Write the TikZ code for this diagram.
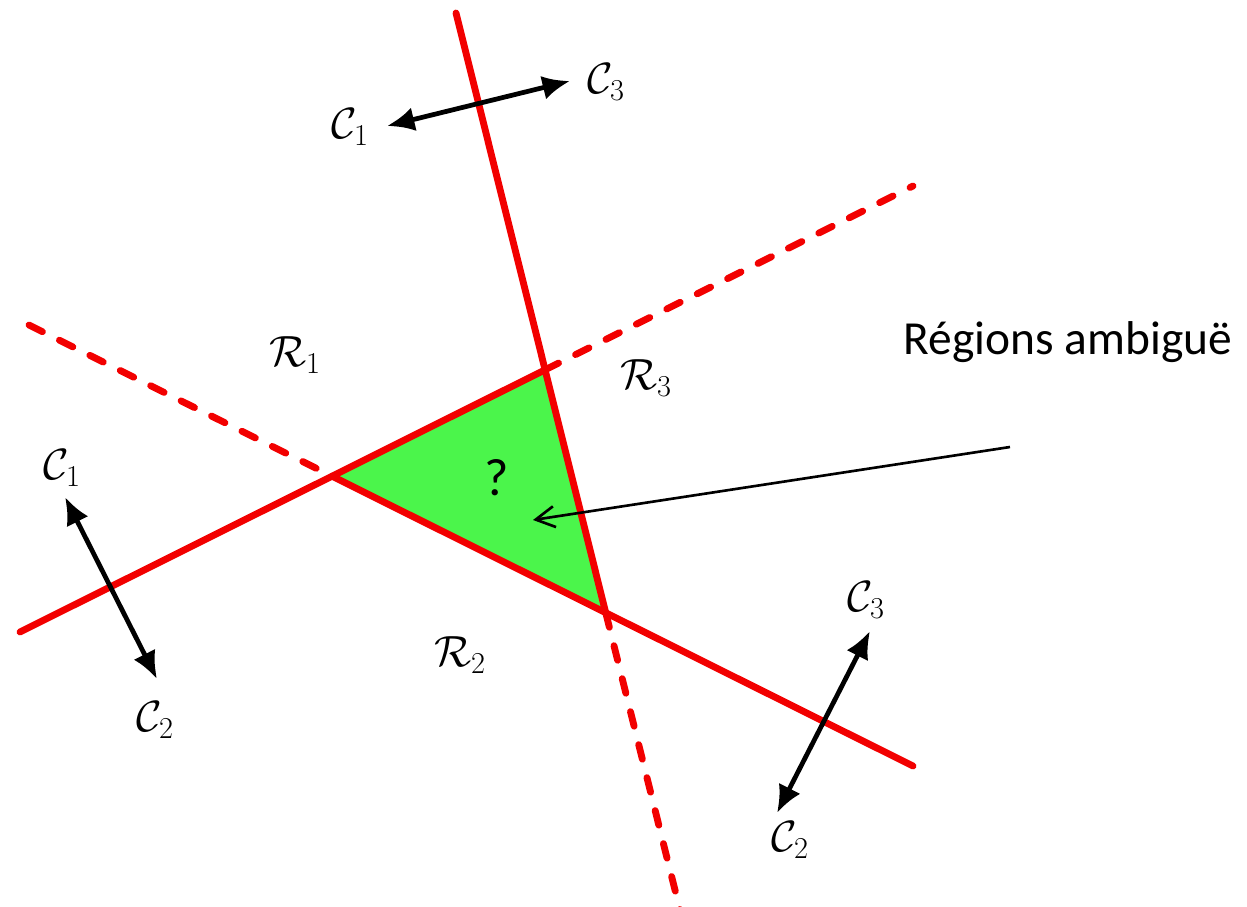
\documentclass[tikz,border=0pt]{standalone}
\usepackage{amsmath}
\usepackage{fontspec}
\newfontfamily\calibri{Carlito}
\usetikzlibrary{calc}
\usetikzlibrary{arrows.meta}
\tikzset{>=latex}
\colorlet{myred}{red!95!black}
\definecolor{mygreen}{RGB}{75,245,75}

\begin{document}
\begin{tikzpicture}[x=0.02cm, y=-0.02cm,
    border/.style={line width=3.9pt, myred, line cap=round},
    borderdash/.style={border, dash pattern=on 0.3cm off 0.38cm},
    dbl/.style={{Latex[length=0.55cm,width=0.48cm]}-{Latex[length=0.55cm,width=0.48cm]}, line width=2.7pt},
    lab/.style={font=\fontsize{27}{32}\selectfont},
    txt/.style={font=\calibri\fontsize{27}{32}\selectfont}]

    \clip (0,0) rectangle (1247,906);
    \useasboundingbox (0,0) rectangle (1247,906);

    % ends of the three boundaries
    \coordinate (Atop) at (456,13);
    \coordinate (Abot) at (684,926);
    \coordinate (Bl) at (20,632);
    \coordinate (Br) at (913,186);
    \coordinate (Cl) at (29,325);
    \coordinate (Cr) at (913,766);
    % corners of the ambiguous region
    \coordinate (P12) at (intersection of Bl--Br and Cl--Cr);
    \coordinate (P13) at (intersection of Atop--Abot and Bl--Br);
    \coordinate (P23) at (intersection of Atop--Abot and Cl--Cr);

    \fill[mygreen] (P12) -- (P13) -- (P23) -- cycle;

    \draw[borderdash] (P23) -- (Abot);
    \draw[borderdash] (P13) -- (Br);
    \draw[borderdash] (Cl) -- (P12);
    \draw[border] (Atop) -- (P23);
    \draw[border] (Bl) -- (P13);
    \draw[border] (P12) -- (Cr);

    % C1 / C3
    \coordinate (t1) at (387,126);
    \coordinate (t3) at (570,81);
    \draw[dbl] (t1) -- (t3);
    \node[lab] (c1top) at (350,127) {$\mathcal{C}_1$};
    \node[lab] (c3top) at (606,82) {$\mathcal{C}_3$};

    % C1 / C2
    \coordinate (l1) at (65,497);
    \coordinate (l2) at (157,679);
    \draw[dbl] (l1) -- (l2);
    \node[lab] (c1left) at (62,468) {$\mathcal{C}_1$};
    \node[lab] (c2left) at (155,720) {$\mathcal{C}_2$};

    % C3 / C2
    \coordinate (r3) at (870,631);
    \coordinate (r2) at (777,813);
    \draw[dbl] (r3) -- (r2);
    \node[lab] (c3right) at (866,600) {$\mathcal{C}_3$};
    \node[lab] (c2right) at (790,840) {$\mathcal{C}_2$};

    % regions
    \node[lab] (reg1) at (295,355) {$\mathcal{R}_1$};
    \node[lab] (reg3) at (646,378) {$\mathcal{R}_3$};
    \node[lab] (reg2) at (460,655) {$\mathcal{R}_2$};
    \node[font=\calibri\fontsize{30}{34}\selectfont] (qm) at (497,478) {?};

    \node[txt] (amb) at (1068,342) {Régions ambiguë};
    \coordinate (ambfrom) at (1010,447);
    \coordinate (ambto) at (533,520);
    \draw[-{Straight Barb[length=0.38cm,width=0.42cm]}, line width=1.5pt] (ambfrom) -- (ambto);

\end{tikzpicture}
\end{document}
